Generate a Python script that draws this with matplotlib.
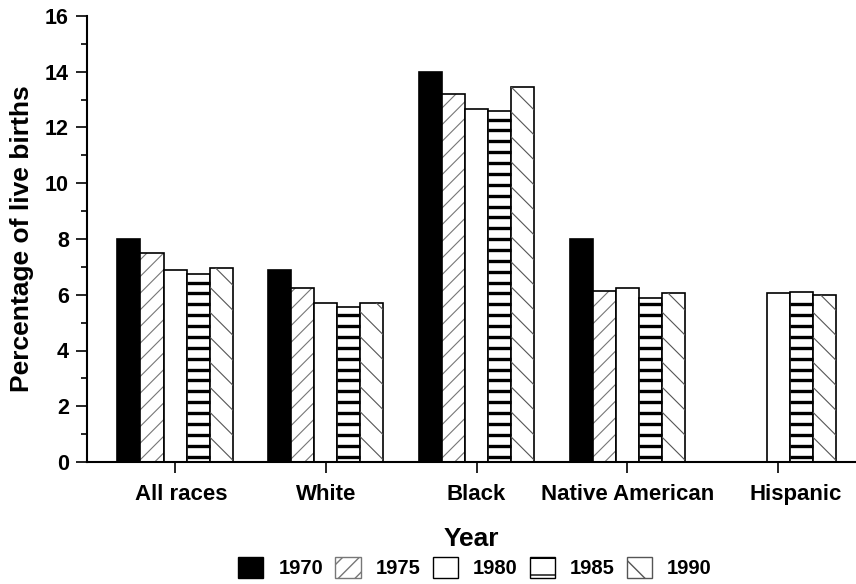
import numpy as np
import matplotlib.pyplot as plt
import matplotlib.transforms as mtransforms
from matplotlib.patches import Patch
from matplotlib.ticker import MultipleLocator

plt.rcParams['font.family'] = ['Liberation Sans', 'DejaVu Sans']
plt.rcParams['font.weight'] = 'bold'

groups = ["All races", "White", "Black", "Native American", "Hispanic"]
years = ["1970", "1975", "1980", "1985", "1990"]

# percentage of live births, nan = no data
pct_1970 = [8.0, 6.9, 14.0, 8.0, np.nan]
pct_1975 = [7.5, 6.25, 13.2, 6.15, np.nan]
pct_1980 = [6.9, 5.7, 12.65, 6.25, 6.05]
pct_1985 = [6.75, 5.55, 12.6, 5.9, 6.1]
pct_1990 = [6.95, 5.7, 13.45, 6.05, 5.98]
series = [pct_1970, pct_1975, pct_1980, pct_1985, pct_1990]

styles = [
    dict(facecolor='black', hatch=None, hatch_edge='black', hlw=1.0),
    dict(facecolor='white', hatch='//', hatch_edge='#777777', hlw=0.8),
    dict(facecolor='white', hatch=None, hatch_edge='black', hlw=1.0),
    dict(facecolor='white', hatch=None, hatch_edge='black', hlw=1.0),  # stripes drawn by hand
    dict(facecolor='white', hatch=None, hatch_edge='#555555', hlw=0.8),  # diagonals drawn by hand
]

fig = plt.figure(figsize=(8.56, 5.84), dpi=100)
ax = fig.add_axes([87 / 856, 122 / 584, 768 / 856, 446 / 584])
xlim = (-0.584, 4.51)
ylim = (0, 16)
ax.set_xlim(*xlim)
ax.set_ylim(*ylim)
xppu = 768 / (xlim[1] - xlim[0])
yppu = 446 / (ylim[1] - ylim[0])

x = np.arange(len(groups))
w = 0.153
stripe_step = 0.39
diag_step = 25 / yppu
for i, (vals, st) in enumerate(zip(series, styles)):
    pos = x + (i - 2) * w
    h = np.array(vals)
    ok = ~np.isnan(h)
    if st['hatch']:
        bars = ax.bar(pos[ok], h[ok], w, color=st['facecolor'], hatch=st['hatch'],
                      edgecolor=st['hatch_edge'], linewidth=0)
        for b in bars:
            if hasattr(b, 'set_hatch_linewidth'):
                b.set_hatch_linewidth(st['hlw'])
    else:
        bars = ax.bar(pos[ok], h[ok], w, color=st['facecolor'], linewidth=0)
    if years[i] == "1985":
        for p, hv in zip(pos[ok], h[ok]):
            ys = np.arange(stripe_step * 0.5, hv - 0.1, stripe_step)
            ax.hlines(ys, p - w / 2, p + w / 2, colors='black', linewidth=2.4)
    if years[i] == "1990":
        drop = w * xppu / yppu  # 45 degree lines in pixel space
        for b, p, hv in zip(bars, pos[ok], h[ok]):
            for y0 in np.arange(0, hv + drop, diag_step):
                ln, = ax.plot([p - w / 2, p + w / 2], [y0, y0 - drop], color='#555555', linewidth=0.8)
                ln.set_clip_path(b)
    ax.bar(pos[ok], h[ok], w, fill=False, edgecolor='black', linewidth=1.2)

ax.yaxis.set_major_locator(MultipleLocator(2))
ax.yaxis.set_minor_locator(MultipleLocator(1))
ax.set_xticks(x)
ax.set_xticklabels(groups, fontsize=16, fontweight='bold')
ax.tick_params(axis='x', length=8, width=1.2, pad=8)
ax.tick_params(axis='y', which='major', length=8, width=1.2, labelsize=15.5, pad=5)
ax.tick_params(axis='y', which='minor', length=4, width=1.2)
for lab in ax.get_yticklabels():
    lab.set_fontweight('bold')

# small label shifts as in the original
shifts = [6, 0, 0, 0, 18]
for lab, dx in zip(ax.get_xticklabels(), shifts):
    lab.set_transform(lab.get_transform() + mtransforms.ScaledTranslation(dx / 100, 0, fig.dpi_scale_trans))

ax.spines['top'].set_visible(False)
ax.spines['right'].set_visible(False)
ax.spines['left'].set_linewidth(1.5)
ax.spines['bottom'].set_linewidth(1.5)

ax.set_ylabel("Percentage of live births", fontsize=19, fontweight='bold', labelpad=8)
ax.set_xlabel("Year", fontsize=19, fontweight='bold', labelpad=16)

handles = []
legend_hatch = [None, '//', None, '-', '\\']
for st, hatch in zip(styles, legend_hatch):
    p = Patch(facecolor=st['facecolor'], edgecolor='black' if hatch is None else st['hatch_edge'],
              hatch=hatch, linewidth=1)
    handles.append(p)
leg = fig.legend(handles, years, loc='lower center', bbox_to_anchor=(0.555, -0.021), ncol=5,
                 frameon=False, fontsize=14.5, handlelength=1.25, handleheight=1.25,
                 columnspacing=0.6, handletextpad=0.75)
for t in leg.get_texts():
    t.set_fontweight('bold')

fig.savefig("out.png", dpi=100)
